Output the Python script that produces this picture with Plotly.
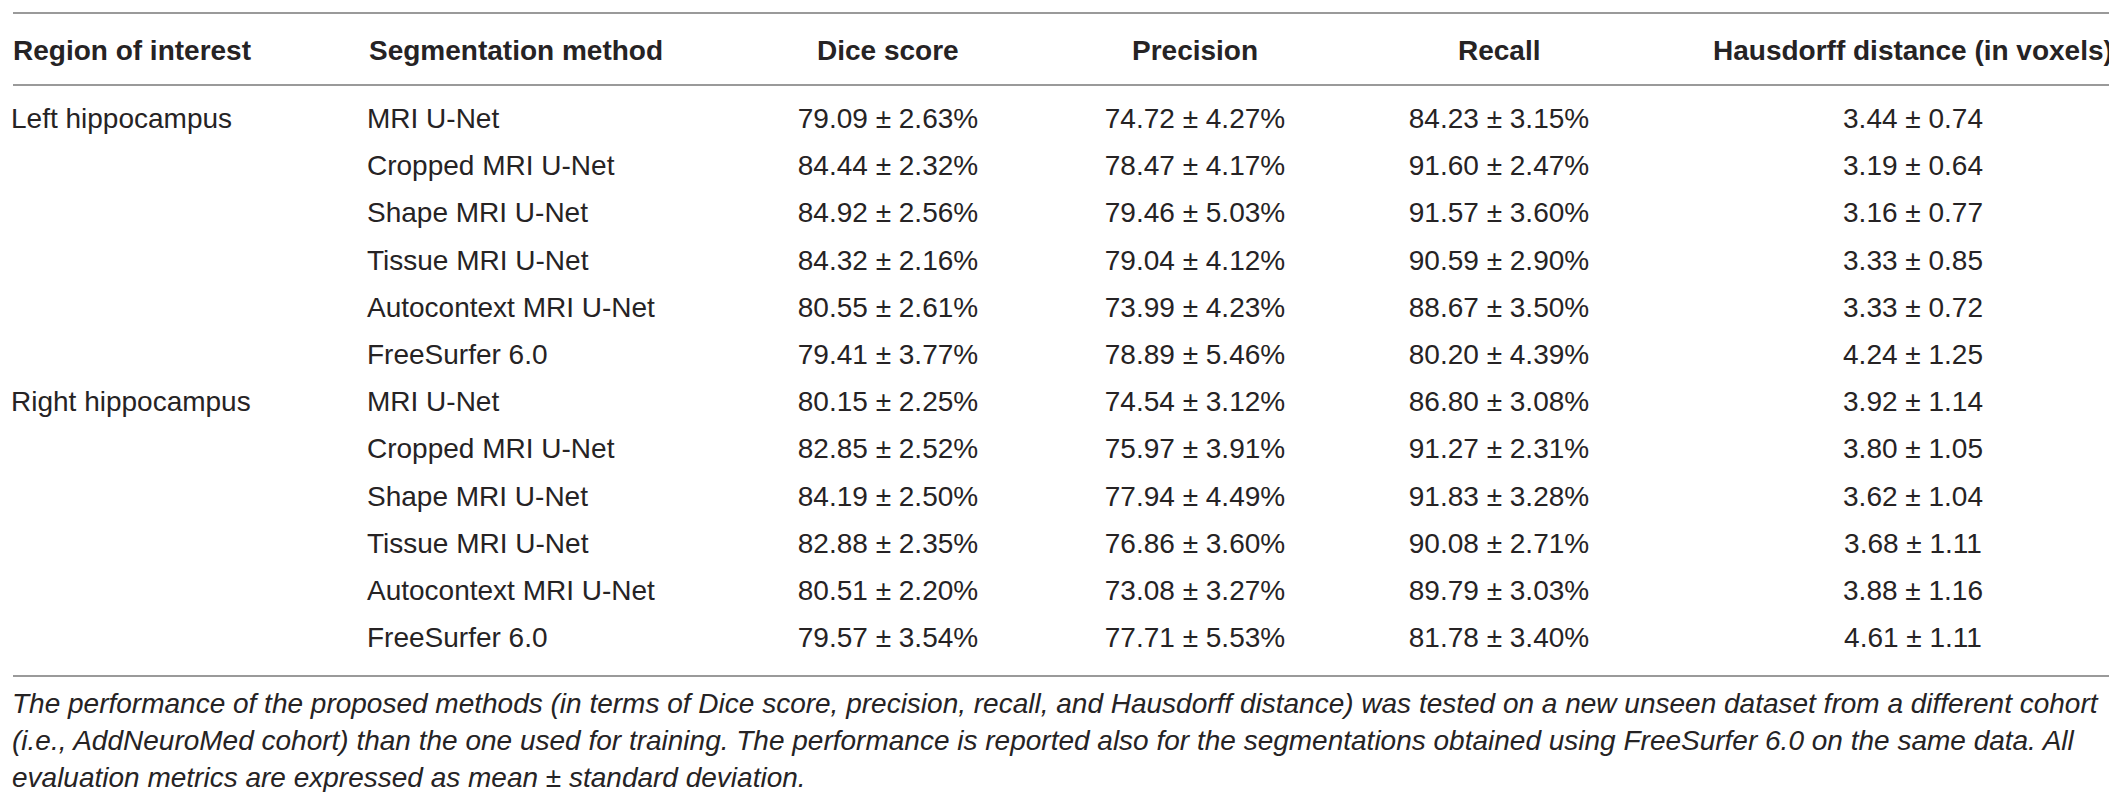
import plotly.graph_objects as go

# table contents
regions = ['Left hippocampus', 'Right hippocampus']
methods = ['MRI U-Net', 'Cropped MRI U-Net', 'Shape MRI U-Net',
           'Tissue MRI U-Net', 'Autocontext MRI U-Net', 'FreeSurfer 6.0']
headers = ['Region of interest', 'Segmentation method', 'Dice score',
           'Precision', 'Recall', 'Hausdorff distance (in voxels)']

dice = ['79.09 ± 2.63%', '84.44 ± 2.32%', '84.92 ± 2.56%', '84.32 ± 2.16%', '80.55 ± 2.61%', '79.41 ± 3.77%',
        '80.15 ± 2.25%', '82.85 ± 2.52%', '84.19 ± 2.50%', '82.88 ± 2.35%', '80.51 ± 2.20%', '79.57 ± 3.54%']
precision = ['74.72 ± 4.27%', '78.47 ± 4.17%', '79.46 ± 5.03%', '79.04 ± 4.12%', '73.99 ± 4.23%', '78.89 ± 5.46%',
             '74.54 ± 3.12%', '75.97 ± 3.91%', '77.94 ± 4.49%', '76.86 ± 3.60%', '73.08 ± 3.27%', '77.71 ± 5.53%']
recall = ['84.23 ± 3.15%', '91.60 ± 2.47%', '91.57 ± 3.60%', '90.59 ± 2.90%', '88.67 ± 3.50%', '80.20 ± 4.39%',
          '86.80 ± 3.08%', '91.27 ± 2.31%', '91.83 ± 3.28%', '90.08 ± 2.71%', '89.79 ± 3.03%', '81.78 ± 3.40%']
hausdorff = ['3.44 ± 0.74', '3.19 ± 0.64', '3.16 ± 0.77', '3.33 ± 0.85', '3.33 ± 0.72', '4.24 ± 1.25',
             '3.92 ± 1.14', '3.80 ± 1.05', '3.62 ± 1.04', '3.68 ± 1.11', '3.88 ± 1.16', '4.61 ± 1.11']

caption = [
    'The performance of the proposed methods (in terms of Dice score, precision, recall, and Hausdorff distance) was tested on a new unseen dataset from a different cohort',
    '(i.e., AddNeuroMed cohort) than the one used for training. The performance is reported also for the segmentations obtained using FreeSurfer 6.0 on the same data. All',
    'evaluation metrics are expressed as mean ± standard deviation.',
]

# layout constants (pixels)
W, H = 2117, 792
ROW0, ROW_H = 113, 47.2
col_x = [3, 359, 880, 1187, 1491, 1905]
FONT = 'Liberation Sans'
INK = '#262324'
RULE = '#9a9a9a'


def to_row(px):
    return (px - ROW0) / ROW_H


n_rows = len(methods) * len(regions)
rows = list(range(n_rows))
region_col = [regions[i // len(methods)] if i % len(methods) == 0 else '' for i in rows]
method_col = [methods[i % len(methods)] for i in rows]

fig = go.Figure()
columns = [region_col, method_col, dice, precision, recall, hausdorff]
for i, col in enumerate(columns):
    left = i < 2
    fig.add_trace(go.Scatter(
        x=[col_x[i]] * n_rows, y=rows, text=col, mode='text',
        textposition='middle right' if left else 'middle center',
        textfont=dict(family=FONT, size=28, color=INK),
        hoverinfo='skip', showlegend=False))

for i, h in enumerate(headers):
    fig.add_annotation(x=col_x[i], y=to_row(42), text='<b>' + h + '</b>',
                       xanchor='left' if i < 2 else 'center', yanchor='middle',
                       showarrow=False, font=dict(family=FONT, size=28, color=INK))

for px in (5, 77, 668):
    fig.add_shape(type='line', x0=5, x1=2112, y0=to_row(px), y1=to_row(px),
                  line=dict(color=RULE, width=2))

for k, line in enumerate(caption):
    fig.add_annotation(x=2, y=to_row([695, 732, 769][k]), text='<i>' + line + '</i>',
                       xanchor='left', yanchor='middle', showarrow=False,
                       font=dict(family=FONT, size=28, color=INK))

fig.update_layout(
    width=W, height=H, margin=dict(l=0, r=0, t=0, b=0),
    paper_bgcolor='white', plot_bgcolor='white',
    xaxis=dict(range=[0, W], visible=False, fixedrange=True),
    yaxis=dict(range=[to_row(H), to_row(0)], visible=False, fixedrange=True),
)

fig.write_html('out.html')
